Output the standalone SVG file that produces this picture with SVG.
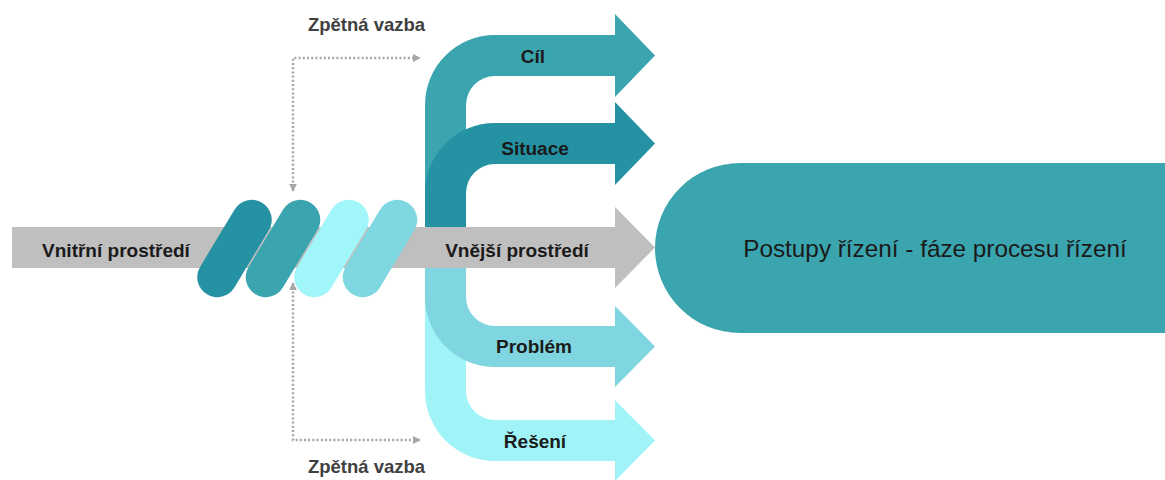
<svg xmlns="http://www.w3.org/2000/svg" width="1165" height="480" viewBox="0 0 1165 480">
  <defs>
    <style>
      .lbl { font-family: "Liberation Sans", Arial, sans-serif; font-weight: bold; font-size: 19px; fill: #1a1a1a; text-anchor: middle; }
      .fb { font-family: "Liberation Sans", Arial, sans-serif; font-weight: bold; font-size: 18.5px; fill: #404040; text-anchor: middle; }
      .big { font-family: "Liberation Sans", Arial, sans-serif; font-size: 24.3px; fill: #1a1a1a; text-anchor: middle; }
      .dots { fill: none; stroke: #a6a6a6; stroke-width: 2.5; stroke-dasharray: 2 2.2; marker-start: url(#tip); marker-end: url(#tip); }
    </style>
    <marker id="tip" viewBox="0 0 10 10" refX="9" refY="5" markerWidth="3.2" markerHeight="3.2" orient="auto-start-reverse" markerUnits="strokeWidth">
      <path d="M0 0 L10 5 L0 10 Z" fill="#a6a6a6"/>
    </marker>
    <rect id="capsule" x="-20" y="-53.5" width="40" height="107" rx="20"/>
  </defs>

  <rect width="1165" height="480" fill="#ffffff"/>

  <!-- bent arrows -->
  <g id="cil">
    <path d="M425 247 V105 A70 70 0 0 1 495 35 H615 V14 L655 55.5 L615 97 V76 H495 A29 29 0 0 0 466 105 V247 Z" fill="#3aa5af"/>
  </g>
  <g id="situace">
    <path d="M425 247 V193 A70 70 0 0 1 495 123 H615 V102 L655 143.5 L615 185 V164 H495 A29 29 0 0 0 466 193 V247 Z" fill="#2592a3"/>
  </g>
  <g id="reseni">
    <path d="M425 247 V391 A70 70 0 0 0 495 461 H615 V481 L655 440.5 L615 400 V420 H495 A29 29 0 0 1 466 391 V247 Z" fill="#a0f4f8"/>
  </g>
  <g id="problem">
    <path d="M425 247 V297 A70 70 0 0 0 495 367 H615 V387 L655 346.5 L615 306 V326 H495 A29 29 0 0 1 466 297 V247 Z" fill="#7fd6e0"/>
  </g>

  <!-- main grey arrow -->
  <g id="prostredi">
    <path d="M12 227 H615 V207 L655 247.5 L615 288 V268 H12 Z" fill="#bfbfbf"/>
  </g>

  <!-- twisted ribbon -->
  <g id="ribbon">
    <use href="#capsule" transform="translate(234.5 248.5) rotate(31)" fill="#2592a3"/>
    <use href="#capsule" transform="translate(283 248.5) rotate(31)" fill="#3aa5af"/>
    <use href="#capsule" transform="translate(331.5 248.5) rotate(31)" fill="#a0f6f9"/>
    <use href="#capsule" transform="translate(380 248.5) rotate(31)" fill="#7fd8e1"/>
  </g>

  <!-- target -->
  <g id="postupy">
    <path d="M740 163 H1165 V333 H740 A85 85 0 0 1 740 163 Z" fill="#3aa5af"/>
    <text class="big" x="935" y="257">Postupy řízení - fáze procesu řízení</text>
  </g>

  <!-- feedback connectors -->
  <g id="connectors">
    <path class="dots" d="M293 191 V58 H420"/>
    <path class="dots" d="M293 283 V440 H420"/>
  </g>

  <!-- labels -->
  <g id="labels">
    <text class="lbl" x="533" y="63">Cíl</text>
    <text class="lbl" x="535" y="155">Situace</text>
    <text class="lbl" x="116" y="257">Vnitřní prostředí</text>
    <text class="lbl" x="517" y="257">Vnější prostředí</text>
    <text class="lbl" x="534" y="353">Problém</text>
    <text class="lbl" x="535" y="448">Řešení</text>
    <text class="fb" x="366.5" y="31">Zpětná vazba</text>
    <text class="fb" x="366.5" y="473">Zpětná vazba</text>
  </g>
</svg>
